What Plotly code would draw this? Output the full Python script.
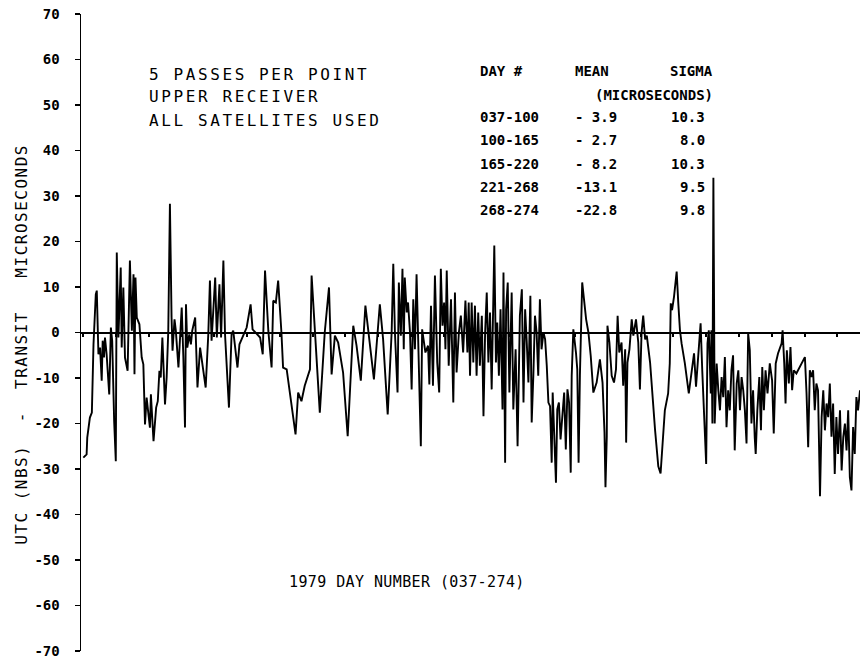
import plotly.graph_objects as go

# ---- data (day number, UTC(NBS)-TRANSIT in microseconds) ----
days1 = [37.1,38.1,38.3,39.1,39.7,40.2,40.9,41.2,41.7,42.2,42.7,43.0,43.4,43.7,44.2,45.0,45.5,45.9,46.5,47.0,
         47.3,47.8,48.5,48.8,49.3,49.8,50.6,51.3,51.9,52.4,52.7,53.0,53.4,54.2,54.9,55.4,55.9,56.4,57.4,57.7,
         58.5,59.3,59.8,60.3,60.7,61.2,62.0,62.5,63.0,63.5,64.0,64.3,64.9,65.3,66.1,67.1,67.6,68.1,68.4,68.8,
         69.4,69.9,70.3,71.2,71.9,72.7,74.4,75.2,75.7,76.2,77.3,77.8,78.6,79.1,79.8,80.3,81.5,82.3,82.8,84.1,
         84.7,85.6,86.9,88.1,88.7,91.0,91.8,92.5,93.0,93.5,94.5,95.0]
vals1 = [-27.5,-26.8,-23.1,-18.7,-17.6,-2.6,8.4,9.2,-4.8,-3.3,-10.6,-1.8,-5.5,-1.1,-4.8,-13.6,1.1,-1.8,-19.5,-28.3,
         17.6,-1.1,14.3,-3.3,9.9,-5.5,-8.4,15.8,0.4,12.8,-9.2,12.1,3.3,1.8,-5.5,-7.0,-20.2,-14.3,-20.9,-13.6,
         -23.9,-16.5,-15.1,-8.4,-9.9,-1.1,-15.8,-9.9,0.4,28.3,3.3,-4.0,2.9,0.4,-7.7,5.5,-5.5,-20.9,6.2,-3.3,
         -0.4,-2.6,0.4,3.3,-12.1,-3.3,-12.1,-0.4,11.4,-1.8,12.1,-1.1,10.6,-1.1,15.8,-0.4,-16.5,-0.4,0.4,-7.7,
         -2.6,-1.1,1.1,6.2,0.7,-1.1,-4.8,13.6,7.0,0.4,-7.7,7.0]

days2 = [95.8,96.5,97.5,98.0,99.1,100.6,101.8,102.6,103.6,104.6,106.2,106.7,107.7,109.2,110.7,112.0,112.8,113.8,114.8,116.3,
         117.7,118.4,119.4,120.4,121.7,123.1,124.5,125.7,127.5,128.5,129.9,131.1,131.6,132.1,132.9,133.3,133.9,134.4,134.8,135.1,
         135.7,136.1,136.7,137.2,137.7,138.2,138.7,139.2,140.0,140.4,140.9,141.4,142.2,142.6,143.1,143.7,144.3,145.0,145.6,146.1,
         146.6,147.1,147.5,147.9,148.5,149.2,149.9,150.4,150.9,151.6,152.2,152.9,153.6,154.2,154.6]
vals2 = [6.6,11.4,0,-7.7,-8.1,-16.2,-22.4,-13.2,-15.1,-11.7,-8.1,12.5,0,-17.6,0,9.9,-9.2,-0.7,-2.2,-8.8,
         -22.8,-11.7,1.5,-2.9,-10.6,5.9,-2.9,-10.3,6.2,-1.5,-18.0,0,15.1,0,-13.2,11.0,-0.7,14.0,-3.7,12.1,
         4.4,6.6,0,-12.5,7.3,-3.7,12.8,0,-25.0,0.7,-1.5,-4.4,-2.9,-11.4,5.9,-11.7,12.5,-6.6,-13.2,14.0,
         1.5,6.6,-3.7,13.6,-7.3,7.3,-15.4,8.8,-8.8,0,3.7,-4.4,7.0,-4.4,6.6]

days3 = [155.0,155.5,156.0,156.5,157.0,157.5,158.0,158.6,159.1,159.6, 160.1,160.6,161.1,161.6,162.1,162.4,162.9,163.3,163.8,164.3,
         164.9,165.2,165.7,166.0,166.5,167.0,167.7,168.2,168.9,169.5, 170.2,170.8,171.3,171.8,172.3,172.8,173.4,173.8,174.3,174.8,
         175.3,175.8,176.3,176.8,177.4,177.9,178.4,178.9,179.4,179.9, 180.2,180.7,181.2,181.6,182.1,182.6,183.2,183.7,184.2,184.7,
         185.2,185.7,186.0,186.5,187.3,187.7,188.1,188.5,189.2,189.8, 190.4,191.1,191.8,192.6,193.6,194.6,195.4,196.0,196.3,196.7,
         196.9,197.5,198.2,198.9,199.5,200.0,200.5,201.2,201.7,202.3, 202.6,203.0,203.6,204.3,204.8,205.6,206.3,206.8,207.3,207.8,
         208.4,208.9,209.9,211.4,212.4,213.1,213.9]
vals3 = [-9.5,6.6,-6.6,5.9,-9.5,4.4,-7.3,3.7,-18.4,0, 8.8,-6.6,4.4,-12.5,10.3,19.1,-6.6,2.2,-9.5,5.1,
         -16.9,13.2,-28.6,5.1,11.0,-13.2,8.8,-16.9,-3.7,-25.0, 3.7,9.5,-15.4,5.1,-2.2,-11.0,8.1,-19.8,-9.5,3.7,
         0,-9.5,7.3,-3.7,0,-1.5,-7.3,-15.4,-16.2,-28.6, -13.2,-21.3,-33.0,-16.9,-15.4,-23.5,-16.9,-13.2,-25.7,-12.5,
         -15.4,-30.8,-9.5,0.7,-4.4,-8.1,-28.6,-9.5,11.0,6.6, 2.9,0,-5.1,-13.2,-11.0,-5.9,-11.0,-22.0,-34.0,-22.8,
         1.5,-2.2,-9.5,-11.0,-8.1,3.7,-4.4,-2.2,-11.7,-3.7, -24.2,-6.6,-3.7,2.9,-0.7,2.9,-2.2,-12.5,0,3.7,
         -1.5,-0.7,-6.6,-21.3,-29.4,-31.0,-21.3]

days4 = [214.4,215.4,215.9,216.2,216.6,217.2,218.0,218.5,219.0,219.5, 220.5,221.7,222.5,223.3,223.9,224.6,225.3,225.8,226.4,227.0,
         227.4,227.8,228.4,228.6,228.9,229.2,229.6,230.2,230.7,231.2, 231.7,232.2,232.7,233.2,233.7,234.2,234.7,235.2,235.7,236.3,
         236.8,237.3,237.8,238.3,238.8,239.3,239.8,240.3,240.8,241.3, 241.8,242.1,242.6,243.2,243.7,244.1,244.6,245.1,245.7,246.4,
         247.1,247.6,248.2,248.9,250.0,250.3,250.8,251.2,251.6,252.2, 252.7,253.2,253.7,254.5,257.1,257.6,258.1,258.6,259.1,259.6,
         260.1,260.6,261.1,261.7,262.2,262.7,263.2,263.7,264.2,264.7, 265.2,265.7,266.2,266.7,267.2,267.8,268.3,268.8,269.3,269.8,
         270.3,270.8,271.3,271.8,272.3,272.8,273.3,273.9]
vals4 = [-17.1,-13.4,-6.8,6.4,4.9,7.9,13.4,6.4,0.5,-2.4, -6.8,-13.4,-8.3,-4.6,-11.9,-5.4,2.0,-8.3,-17.1,-28.9,
         -2.4,0.5,-13.4,0.5,-20.0,34.0,-20.0,-6.8,-12.7,-17.1, -9.8,-14.2,-5.4,-20.8,-12.7,-17.1,-8.3,-5.0,-25.9,-11.2,
         -8.3,-17.1,-9.8,-12.7,-17.1,-24.4,-0.2,-3.9,-20.0,-12.7, -23.0,-26.7,-17.1,-9.8,-21.5,-7.6,-17.1,-8.3,-13.4,-6.8,
         -10.5,-22.2,-6.8,-4.6,-2.4,0.5,-6.8,-15.6,-3.9,-11.2, -3.2,-12.7,-8.3,-9.0,-5.4,-13.4,-25.2,-8.3,-9.8,-8.3,
         -17.1,-11.2,-12.7,-36.0,-18.6,-12.7,-21.5,-15.6,-18.6,-11.2, -22.9,-15.6,-31.1,-18.6,-26.7,-17.1,-30.3,-23.0,-20.0,-25.9,
         -17.1,-31.8,-34.7,-20.8,-26.7,-14.2,-17.1,-12.7]

y_ticks = list(range(-70, 71, 10))

table_days = ["037-100", "100-165", "165-220", "221-268", "268-274"]
table_mean = ["- 3.9", "- 2.7", "- 8.2", "-13.1", "-22.8"]
table_sigma = ["10.3", "8.0", "10.3", "9.5", "9.8"]

notes = ["5 PASSES PER POINT", "UPPER RECEIVER", "ALL SATELLITES USED"]

days = days1 + days2 + days3 + days4
vals = vals1 + vals2 + vals3 + vals4
assert len(days) == len(vals)

MONO = "DejaVu Sans Mono"
X0, X1 = 36.39, 273.9

fig = go.Figure()
fig.add_trace(go.Scatter(x=days, y=vals, mode="lines",
                         line=dict(color="black", width=1.9), hoverinfo="skip"))

def sp(text, ls):
    return '<span style="letter-spacing:%spx">%s</span>' % (ls, text)

ann = []
for i, t in enumerate(notes):
    ann.append(dict(x=56.5, y=[56.8, 51.8, 46.7][i], xref="x", yref="y", text=sp(t, 2.6),
                    showarrow=False, xanchor="left", yanchor="middle",
                    font=dict(family=MONO, size=16, color="black")))
tf = dict(family=MONO, size=14, color="black", weight="bold")
tab = []
tab.append(dict(x=157.4, y=57.5, text="DAY #", xanchor="left"))
tab.append(dict(x=186.4, y=57.5, text="MEAN", xanchor="left"))
tab.append(dict(x=229.7, y=57.5, text="SIGMA", xanchor="right"))
tab.append(dict(x=229.7, y=52.2, text="(MICROSECONDS)", xanchor="right"))
row_y = [47.4, 42.3, 37.0, 32.0, 26.9]
for i in range(5):
    tab.append(dict(x=157.4, y=row_y[i], text=table_days[i], xanchor="left"))
    tab.append(dict(x=186.4, y=row_y[i], text=table_mean[i], xanchor="left"))
    tab.append(dict(x=227.2, y=row_y[i], text=table_sigma[i], xanchor="right"))
for a in tab:
    a.update(xref="x", yref="y", showarrow=False, yanchor="middle", font=tf)
ann += tab

ann.append(dict(x=99.2, y=-54.8, xref="x", yref="y", text=sp("1979 DAY NUMBER (037-274)", 0.4),
                showarrow=False, xanchor="left", yanchor="middle",
                font=dict(family=MONO, size=15, color="black")))
ann.append(dict(x=-0.0757, y=-2.7, xref="paper", yref="y",
                text=sp("UTC (NBS)  -  TRANSIT   MICROSECONDS", 1.5),
                textangle=-90, showarrow=False, xanchor="center", yanchor="middle",
                font=dict(family=MONO, size=16, color="black")))

fig.update_layout(
    width=860, height=662,
    margin=dict(l=81, r=0, t=14, b=11, autoexpand=False),
    paper_bgcolor="white", plot_bgcolor="white",
    showlegend=False,
    xaxis=dict(range=[X0, X1], anchor="free", position=0.5, showline=True, automargin=False,
               linecolor="black", linewidth=2, ticks="outside", ticklen=3, tickwidth=2,
               tickcolor="black", tick0=37, dtick=10, showticklabels=False,
               showgrid=False, zeroline=False),
    xaxis2=dict(range=[X0, X1], overlaying="x", anchor="free", position=0.5, automargin=False,
                showline=False, ticks="inside", ticklen=3, tickwidth=2, tickcolor="black",
                tick0=37, dtick=10, showticklabels=False, showgrid=False, zeroline=False),
    yaxis=dict(range=[-70, 70], tickvals=y_ticks, ticktext=[str(v) for v in y_ticks],
               showline=True, linecolor="black", linewidth=1.5, ticks="outside", automargin=False,
               ticklen=5, tickwidth=1.5, tickcolor="black", showgrid=False, zeroline=False,
               ticklabelstandoff=12,
               tickfont=dict(family=MONO, size=14, color="black", weight="bold")),
    yaxis2=dict(range=[-70, 70], overlaying="y", anchor="x", side="left", tickvals=y_ticks,
                ticks="inside", ticklen=5, tickwidth=1.5, tickcolor="black", automargin=False,
                showticklabels=False, showline=False, showgrid=False, zeroline=False),
    annotations=ann,
)

fig.write_html("out.html", config={"displayModeBar": False, "staticPlot": True},
               post_script="document.body.style.margin='0';document.body.style.overflow='hidden';")
